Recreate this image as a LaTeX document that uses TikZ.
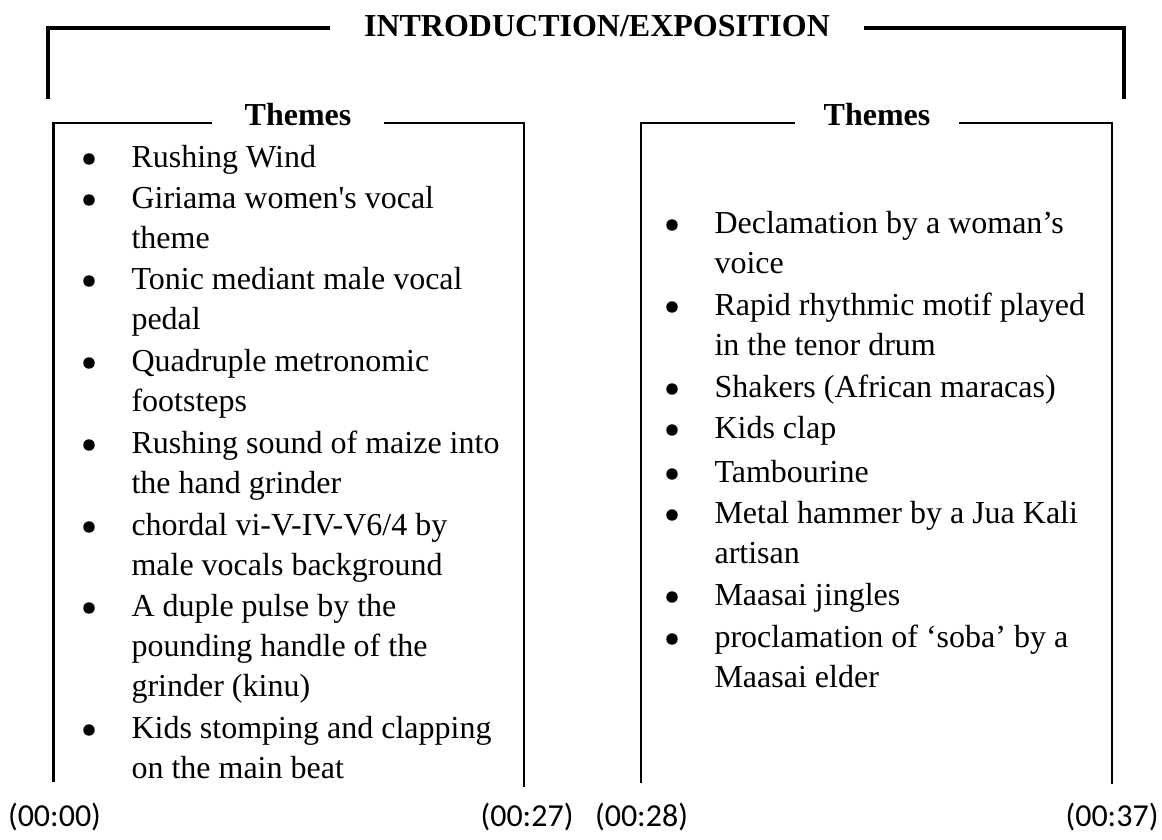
\documentclass[tikz,border=0pt]{standalone}
\usepackage{fontspec}
\setmainfont{Liberation Serif}
\newfontfamily\timefont{Carlito}
\usetikzlibrary{positioning}

\begin{document}
\begin{tikzpicture}[x=0.375pt, y=-0.375pt,
    font=\fontsize{12pt}{15pt}\selectfont,
    thk/.style={line width=1.5pt},
    bx/.style={line width=0.9pt},
    thn/.style={line width=0.4pt},
    ttl/.style={font=\fontsize{12pt}{15pt}\selectfont\bfseries, inner ysep=0pt},
    itm/.style={anchor=base west, inner sep=0pt, text width=150pt,
      execute at begin node={\raggedright\spaceskip=3pt plus 1pt minus 1pt\xspaceskip=3pt\relax}},
    bul/.style={circle, fill=black, inner sep=0pt, minimum size=4.3pt},
    tm/.style={anchor=base, inner sep=0pt, font=\fontsize{12pt}{15pt}\timefont}]
\useasboundingbox (0,0) rectangle (1162,839);

% headings
\node[ttl, inner xsep=12.75pt, text height=8pt, text depth=0.875pt] (intro) at (597,27.5) {INTRODUCTION/EXPOSITION};
\node[ttl, inner xsep=12.2pt, text height=6pt, text depth=4.5pt] (lthm) at (298,123) {Themes};
\node[ttl, inner xsep=10.7pt, text height=6pt, text depth=4.5pt] (rthm) at (877,123) {Themes};

% bracket and boxes
\coordinate (ol) at (47.8,99);
\coordinate (or) at (1124,99);
\coordinate (lbl) at (53.6,782);
\coordinate (lst) at (524,142);
\coordinate (lbr) at (524,787);
\coordinate (rbl) at (641,783);
\coordinate (rbr) at (1112,784);
\draw[thk] (ol) |- (intro.west);
\draw[thk] (intro.east) -| (or);
\draw[bx] (lbl) |- (lthm.west);
\draw[bx] (lthm.east) -| (lst);
\draw[thn] (lst) -- (lbr);
\draw[bx] (rbl) |- (rthm.west);
\draw[bx] (rthm.east) -| (rbr);

% left list
\node[bul] (lb1) at (89,159) {};
\node[itm] (l1) at (131,167) {Rushing Wind};
\node[bul] (lb2) at (89,200) {};
\node[itm] (l2) at (131,208) {Giriama women\textquotesingle s vocal\\theme};
\node[bul] (lb3) at (89,281) {};
\node[itm] (l3) at (131,289) {Tonic mediant male vocal\\pedal};
\node[bul] (lb4) at (89,363) {};
\node[itm] (l4) at (131,371) {Quadruple metronomic\\footsteps};
\node[bul] (lb5) at (89,445) {};
\node[itm] (l5) at (131,453) {Rushing sound of maize into\\the hand grinder};
\node[bul] (lb6) at (89,527) {};
\node[itm] (l6) at (131,535) {chordal vi-V-IV-V6/4 by\\male vocals background};
\node[bul] (lb7) at (89,608) {};
\node[itm] (l7) at (131,616) {A duple pulse by the\\pounding handle of the\\grinder (kinu)};
\node[bul] (lb8) at (89,730) {};
\node[itm] (l8) at (131,738) {Kids stomping and clapping\\on the main beat};

% right list
\node[bul] (rb1) at (672,225) {};
\node[itm] (r1) at (714,233) {Declamation by a woman’s\\voice};
\node[bul] (rb2) at (672,307) {};
\node[itm] (r2) at (714,315) {Rapid rhythmic motif played\\in the tenor drum};
\node[bul] (rb3) at (672,389) {};
\node[itm] (r3) at (714,397) {Shakers (African maracas)};
\node[bul] (rb4) at (672,430) {};
\node[itm] (r4) at (714,438) {Kids clap};
\node[bul] (rb5) at (672,474) {};
\node[itm] (r5) at (714,482) {Tambourine};
\node[bul] (rb6) at (672,515) {};
\node[itm] (r6) at (714,523) {Metal hammer by a Jua Kali\\artisan};
\node[bul] (rb7) at (672,597) {};
\node[itm] (r7) at (714,605) {Maasai jingles};
\node[bul] (rb8) at (672,639) {};
\node[itm] (r8) at (714,647) {proclamation of ‘soba’ by a\\Maasai elder};

% time marks
\node[tm] (t00) at (54.5,826) {(00:00)};
\node[tm] (t27) at (527,826) {(00:27)};
\node[tm] (t28) at (641.5,826) {(00:28)};
\node[tm] (t37) at (1112,826) {(00:37)};
\end{tikzpicture}
\end{document}
